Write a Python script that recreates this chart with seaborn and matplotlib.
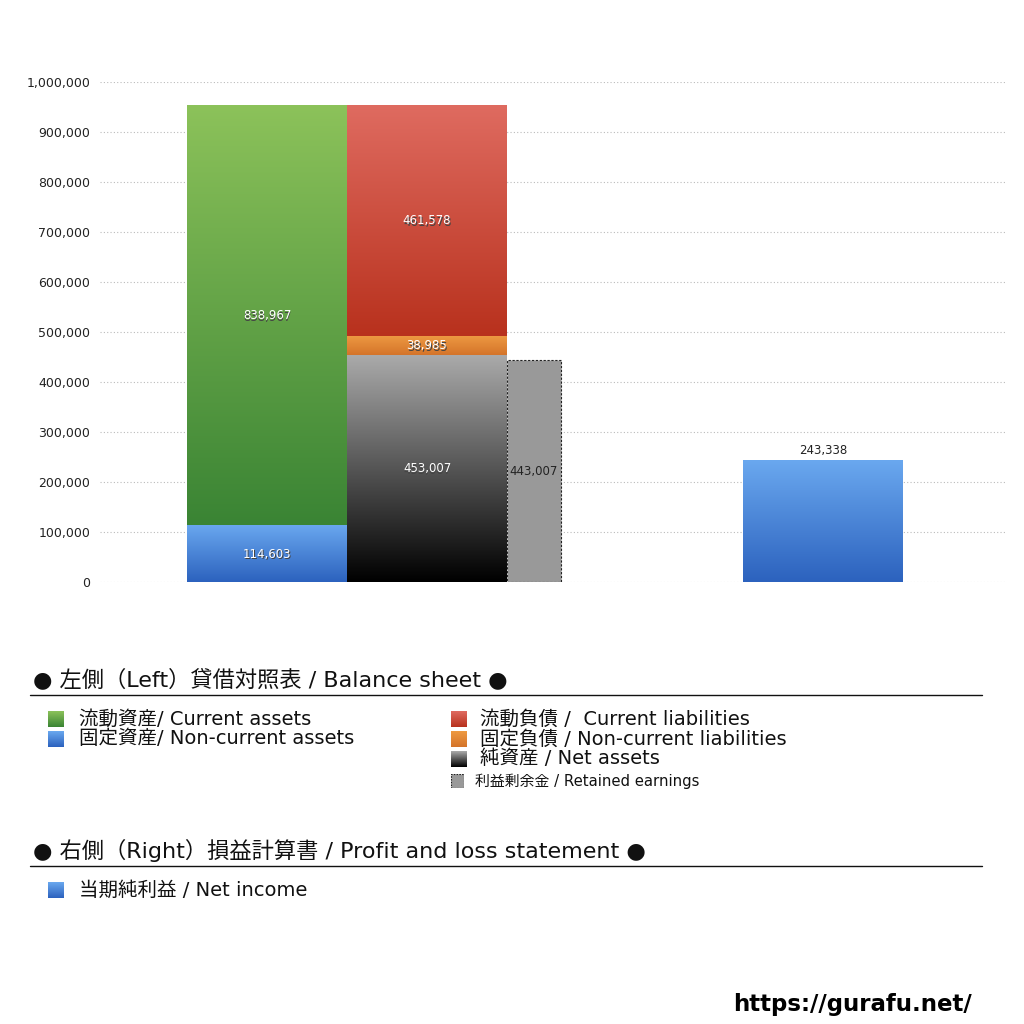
import numpy as np
import matplotlib.pyplot as plt
import seaborn as sns
from matplotlib.colors import LinearSegmentedColormap

sns.set_style('white')
plt.rcParams['font.family'] = ['DejaVu Sans', 'Noto Sans CJK JP']

# Balance sheet (left) and P&L (right)
asset_names = ['流動資産/ Current assets', '固定資産/ Non-current assets']
asset_values = [838967, 114603]
liab_names = ['流動負債 /  Current liabilities', '固定負債 / Non-current liabilities', '純資産 / Net assets']
liab_values = [461578, 38985, 453007]
retained_name = '利益剰余金 / Retained earnings'
retained_value = 443007
pl_names = ['当期純利益 / Net income']
pl_values = [243338]

# gradient colours (top, bottom)
asset_colors = [('#8cc25a', '#3a8434'), ('#6aa8ef', '#2c62be')]
liab_colors = [('#df6b60', '#b8311d'), ('#ee9a42', '#d4742a'), ('#aaaaaa', '#000000')]
pl_colors = [('#6aa8ef', '#2c62be')]

fig = plt.figure(figsize=(10.24, 10.24), dpi=100)
ax = fig.add_axes([100 / 1024, 1 - 582 / 1024, 905 / 1024, 500 / 1024])


def grad_bar(x, h, w, bottom, top_c, bot_c):
    bar = ax.bar(x, h, width=w, bottom=bottom, align='edge', color='none', linewidth=0)[0]
    cmap = LinearSegmentedColormap.from_list('g', [bot_c, top_c])
    grad = np.linspace(0, 1, 512).reshape(-1, 1)
    im = ax.imshow(grad, cmap=cmap, aspect='auto', origin='lower', interpolation='bilinear',
                   extent=[x, x + w, bottom, bottom + h], zorder=2)
    im.set_clip_path(bar)
    return bar


def white_label(x, y, v):
    ax.text(x + 0.6, y - 3000, f'{v:,}', ha='center', va='center', fontsize=8.5,
            color='#444444', zorder=4)
    ax.text(x, y, f'{v:,}', ha='center', va='center', fontsize=8.5, color='white', zorder=5)


# asset stack: non-current at bottom, current on top
bw = 160
x_assets = 87
bottom = 0
for v, (tc, bc) in zip(asset_values[::-1], asset_colors[::-1]):
    grad_bar(x_assets, v, bw, bottom, tc, bc)
    white_label(x_assets + bw / 2, bottom + v / 2 - 2000, v)
    bottom += v

# liabilities stack: net assets at bottom
x_liab = 247
bottom = 0
for v, (tc, bc) in zip(liab_values[::-1], liab_colors[::-1]):
    grad_bar(x_liab, v, bw, bottom, tc, bc)
    white_label(x_liab + bw / 2, bottom + v / 2, v)
    bottom += v

# retained earnings
x_ret = 407
ax.bar(x_ret, retained_value, width=54, align='edge', color='#999999',
       edgecolor='#222222', linestyle=(0, (2, 1.5)), linewidth=0.8, zorder=2)
ax.text(x_ret + 27, retained_value / 2, f'{retained_value:,}', ha='center', va='center',
        fontsize=8.5, color='#222222', zorder=5)

# net income
x_pl = 643
for v, (tc, bc) in zip(pl_values, pl_colors):
    grad_bar(x_pl, v, bw, 0, tc, bc)
    ax.text(x_pl + bw / 2, v + 6000, f'{v:,}', ha='center', va='bottom', fontsize=8.5,
            color='#222222', zorder=5)

ax.set_xlim(0, 905)
ax.set_ylim(0, 1000000)
ax.set_yticks(np.arange(0, 1000001, 100000))
ax.set_yticklabels([f'{t:,}' for t in range(0, 1000001, 100000)], fontsize=9, color='#222222')
ax.set_xticks([])
ax.tick_params(axis='y', length=0, pad=7)
ax.yaxis.grid(True, linestyle=(0, (1, 2)), color='#bbbbbb', linewidth=0.8)
ax.set_axisbelow(True)
for s in ax.spines.values():
    s.set_visible(False)
ax.patch.set_alpha(0)


def px(x, y):
    return x / 1024, 1 - y / 1024


# legend sections
def header(y, text):
    fig.text(*px(33, y), text, fontsize=16, va='center', ha='left', color='#111111')
    fig.add_artist(plt.Line2D([30 / 1024, 982 / 1024], [1 - (y + 16) / 1024] * 2,
                              color='#111111', linewidth=1))


def swatch(x, y, tc, bc, size=16):
    sax = fig.add_axes([x / 1024, 1 - (y + size / 2) / 1024, size / 1024, size / 1024])
    cmap = LinearSegmentedColormap.from_list('s', [bc, tc])
    sax.imshow(np.linspace(0, 1, 64).reshape(-1, 1), cmap=cmap, aspect='auto', origin='lower')
    sax.axis('off')


header(679, '● 左側（Left）貸借対照表 / Balance sheet ●')
for i, (name, (tc, bc)) in enumerate(zip(asset_names, asset_colors)):
    y = 719 + 20 * i
    swatch(48, y, tc, bc)
    fig.text(*px(79, y), name, fontsize=14, va='center', color='#111111')
for i, (name, (tc, bc)) in enumerate(zip(liab_names, liab_colors)):
    y = 719 + 20 * i
    swatch(451, y, tc, bc)
    fig.text(*px(480, y), name, fontsize=14, va='center', color='#111111')

rax = fig.add_axes([451 / 1024, 1 - 788 / 1024, 13 / 1024, 14 / 1024])
rax.add_patch(plt.Rectangle((0, 0), 1, 1, facecolor='#999999', edgecolor='#222222',
                            linestyle=(0, (1.5, 1)), linewidth=0.8))
rax.set_xlim(0, 1)
rax.set_ylim(0, 1)
rax.axis('off')
fig.text(*px(475, 781), retained_name, fontsize=10.7, va='center', color='#111111')

header(850, '● 右側（Right）損益計算書 / Profit and loss statement ●')
for name, (tc, bc) in zip(pl_names, pl_colors):
    swatch(48, 890, tc, bc)
    fig.text(*px(79, 890), name, fontsize=14, va='center', color='#111111')

fig.text(*px(972, 1005), 'https://gurafu.net/', fontsize=16.5, fontweight='bold',
         family='DejaVu Sans', ha='right', va='center', color='#000000')

fig.savefig('out.png', dpi=100)
